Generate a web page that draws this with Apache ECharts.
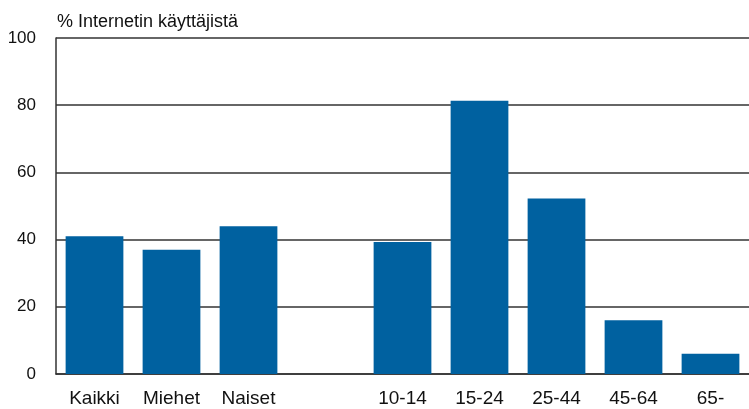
<!DOCTYPE html>
<html>
<head>
<meta charset="utf-8">
<script src="https://cdn.jsdelivr.net/npm/echarts@6/dist/echarts.min.js"></script>
<style>
html, body { margin: 0; padding: 0; background: #fff; }
#chart { width: 749px; height: 409px; }
</style>
</head>
<body>
<div id="chart"></div>
<script>
var categories = ['Kaikki', 'Miehet', 'Naiset', '', '10-14', '15-24', '25-44', '45-64', '65-'];
var values = [41, 37, 44, null, 39.3, 81.3, 52.2, 16, 6];
var yTicks = [0, 20, 40, 60, 80, 100];

var chart = echarts.init(document.getElementById('chart'));
var option = {
	animation: false,
	title: {
		text: '% Internetin käyttäjistä',
		left: 52,
		top: 8,
		textStyle: {
			fontFamily: 'Liberation Sans',
			fontSize: 18,
			fontWeight: 'normal',
			color: '#111'
		}
	},
	grid: {
		left: 56,
		right: 0,
		top: 38,
		bottom: 35
	},
	xAxis: {
		type: 'category',
		data: categories,
		axisLine: { lineStyle: { color: '#333', width: 1.5 } },
		axisTick: { show: false },
		axisLabel: {
			margin: 15,
			fontFamily: 'Liberation Sans',
			fontSize: 19,
			color: '#111'
		}
	},
	yAxis: {
		type: 'value',
		min: yTicks[0],
		max: yTicks[yTicks.length - 1],
		interval: 20,
		axisLine: { show: true, lineStyle: { color: '#333', width: 1.5 } },
		axisTick: { show: false },
		splitLine: { lineStyle: { color: '#333', width: 1.5 } },
		axisLabel: {
			margin: 20,
			fontFamily: 'Liberation Sans',
			fontSize: 17,
			color: '#111'
		}
	},
	series: [{
		type: 'bar',
		data: values,
		barCategoryGap: '25%',
		itemStyle: { color: '#0061a0' },
		z: 3
	}]
};
chart.setOption(option);
</script>
</body>
</html>
